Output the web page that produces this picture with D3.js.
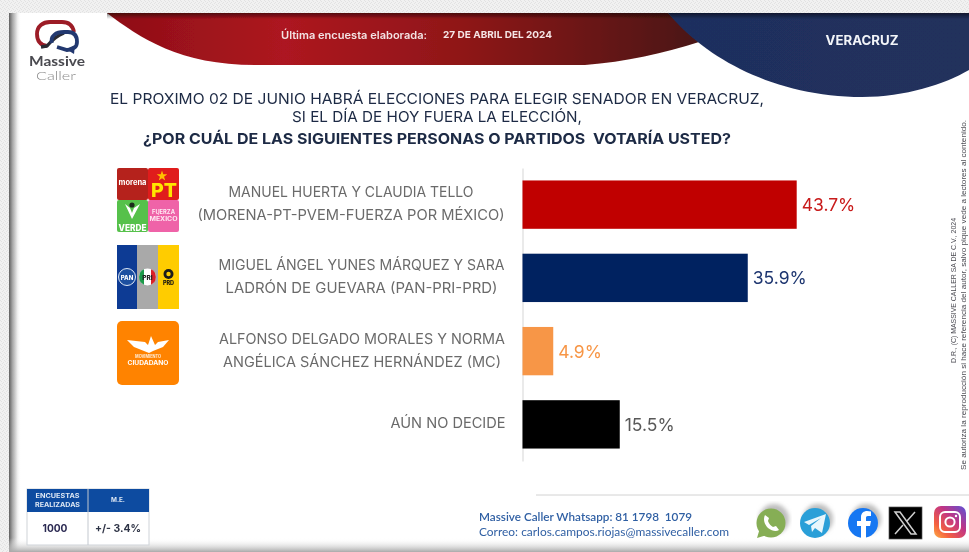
<!DOCTYPE html>
<html><head><meta charset="utf-8">
<script src="https://cdn.jsdelivr.net/npm/d3@7"></script>
<style>html,body{margin:0;padding:0;background:#fff;overflow:hidden}svg{display:block}</style>
</head><body><div id="c"></div>
<script>
const candidates = ["MANUEL HUERTA Y CLAUDIA TELLO|(MORENA-PT-PVEM-FUERZA POR MÉXICO)",
  "MIGUEL ÁNGEL YUNES MÁRQUEZ Y SARA|LADRÓN DE GUEVARA (PAN-PRI-PRD)",
  "ALFONSO DELGADO MORALES Y NORMA|ANGÉLICA SÁNCHEZ HERNÁNDEZ (MC)",
  "AÚN NO DECIDE"];
const values = [43.7, 35.9, 4.9, 15.5];
const barColors = ["#c00000", "#002060", "#f79646", "#000000"];
const valueColors = ["#c81a1a", "#1f3670", "#f79646", "#595959"];
const titleLines = ["EL PROXIMO 02 DE JUNIO HABRÁ ELECCIONES PARA ELEGIR SENADOR EN VERACRUZ,",
  "SI EL DÍA DE HOY FUERA LA ELECCIÓN,", "¿POR CUÁL DE LAS SIGUIENTES PERSONAS O PARTIDOS  VOTARÍA USTED?"];

const W = 969, H = 552;
const font = "Inter, 'Open Sans', sans-serif";
const svg = d3.select("#c").append("svg").attr("width", W).attr("height", H);
const defs = svg.append("defs");
function grad(id, stops, x1=0, y1=0, x2=1, y2=0){
  const g = defs.append("linearGradient").attr("id", id).attr("x1",x1).attr("y1",y1).attr("x2",x2).attr("y2",y2);
  stops.forEach(s => g.append("stop").attr("offset", s[0]).attr("stop-color", s[1]).attr("stop-opacity", s[2]===undefined?1:s[2]));
}
grad("red", [[0,"#8e0f16"],[0.3,"#ad1520"],[0.6,"#8f1418"],[1,"#4a1612"]]);
grad("blue", [[0,"#1e2f5e"],[1,"#22305c"]]);
grad("shL", [[0,"#5f5f5f"],[0.3,"#a8a8a8"],[0.7,"#eeeeee"],[1,"#fff",0]]);
grad("shB", [[0,"#fff",0],[1,"#a9a9a9"]],0,0,0,1);
grad("shT", [[0,"#000",0.5],[1,"#000",0]],0,0,0,1);
grad("ig", [[0,"#5b51d8"],[0.4,"#c13584"],[0.75,"#f56040"],[1,"#fcaf45"]],1,0,0,1);
defs.append("filter").attr("id","soft").attr("x","-2%").attr("y","-2%").attr("width","104%").attr("height","104%").append("feGaussianBlur").attr("stdDeviation",0.45);
defs.append("filter").attr("id","sh").append("feGaussianBlur").attr("stdDeviation",2);
const pat = defs.append("pattern").attr("id","tex").attr("width",4).attr("height",4).attr("patternUnits","userSpaceOnUse");
pat.append("rect").attr("width",4).attr("height",4).attr("fill","#f1f1f1");
pat.append("path").attr("d","M0 0L2 2M2 4L4 2").attr("stroke","#e2e2e2").attr("stroke-width",1);

// page frame
svg.append("rect").attr("width",W).attr("height",H).attr("fill","url(#tex)");
svg.append("rect").attr("x",9).attr("y",13).attr("width",W-9).attr("height",H-13).attr("fill","#fff");
svg.append("rect").attr("x",9).attr("y",13).attr("width",12).attr("height",H-13).attr("fill","url(#shL)");
svg.append("rect").attr("x",9).attr("y",538).attr("width",W-9).attr("height",14).attr("fill","url(#shB)");

// soft drop shadows for the social icons
[[774,519],[818,519],[866,519]].forEach(p=>svg.append("circle").attr("cx",p[0]).attr("cy",p[1]).attr("r",15).attr("fill","#bdbdbd").attr("filter","url(#sh)"));

const root = svg.append("g").attr("filter","url(#soft)");

// header ribbons
root.append("path").attr("d","M107,13C140,38 180,65 255,65L585,65C625,62 665,53 699,42L668,13Z").attr("fill","url(#red)");
root.append("path").attr("d","M668,13C705,58 775,97 862,97C905,97 945,84 969,70L969,13Z").attr("fill","url(#blue)");
root.append("rect").attr("x",107).attr("y",13).attr("width",W-107).attr("height",6).attr("fill","url(#shT)");

function txt(g,x,y,s,o={}){
  const t = g.append("text").attr("x",x).attr("y",y).text(s)
    .attr("font-family",o.font||font).attr("font-size",o.size||12).attr("font-weight",o.weight||400)
    .attr("fill",o.fill||"#000").attr("text-anchor",o.anchor||"start").style("white-space","pre");
  if(o.len){t.attr("textLength",o.len).attr("lengthAdjust","spacingAndGlyphs");}
  if(o.rotate){t.attr("transform",`rotate(${o.rotate} ${x} ${y})`);}
  return t;
}
txt(root,281,39,"Última encuesta elaborada:",{size:10.5,weight:600,fill:"#f3e3e3",len:146});
txt(root,443,38,"27 DE ABRIL DEL 2024",{size:9.5,weight:700,fill:"#f6e6e6",len:109});
txt(root,862,45,"VERACRUZ",{size:13,weight:700,fill:"#f2f4f8",anchor:"middle",len:73});

// logo
const logo = root.append("g");
logo.append("path").attr("d","M47,46C40,45 37,41 37,34C37,26 43,22 50,22L62,22C70,22 73,27 74,32").attr("fill","none").attr("stroke","#9c1b26").attr("stroke-width",3.8);
logo.append("path").attr("d","M41,47L47,46C52,40 56,36 64,33").attr("fill","none").attr("stroke","#2a2a33").attr("stroke-width",3.4);
logo.append("path").attr("d","M52,43C50,36 56,32 64,32L68,32C75,32 77,37 77,42C77,47 73,50 67,50L57,47").attr("fill","none").attr("stroke","#24396f").attr("stroke-width",3.8);
logo.append("path").attr("d","M66,49L74,54L75,45Z").attr("fill","#24396f");
txt(root,57,66,"Massive",{size:13,weight:700,fill:"#4a4a50",anchor:"middle",len:56,font:"Lato, sans-serif"});
txt(root,56,80,"Caller",{size:12.5,weight:300,fill:"#8a8a8a",anchor:"middle",len:40,font:"Lato, sans-serif"});

// title
const titleSpecs = [{y:104,x:437,len:654,w:400,s:15},{y:122,x:437,len:290,w:400,s:15},{y:144,x:437,len:588,w:700,s:15}];
root.selectAll(".tl").data(titleLines).join("text").attr("class","tl")
  .attr("x",(d,i)=>titleSpecs[i].x).attr("y",(d,i)=>titleSpecs[i].y).text(d=>d)
  .attr("font-family",font).attr("font-size",(d,i)=>titleSpecs[i].s).attr("font-weight",(d,i)=>titleSpecs[i].w)
  .attr("fill","#1d2a44").attr("text-anchor","middle").style("white-space","pre")
  .attr("textLength",(d,i)=>titleSpecs[i].len).attr("lengthAdjust","spacingAndGlyphs");

// chart
const x = d3.scaleLinear().domain([0,43.7]).range([522.5,796.7]);
const y = d3.scaleBand().domain(candidates).range([168,461]).paddingInner(0.34).paddingOuter(0.17);
const chart = root.append("g");
chart.append("g").attr("transform",`translate(${x(0)},0)`).call(d3.axisLeft(y).tickSize(0).tickFormat(""))
  .call(g=>g.select(".domain").attr("stroke","#dcdcdc").attr("stroke-width",1.2));
chart.selectAll("rect.bar").data(values).join("rect").attr("class","bar")
  .attr("x",x(0)).attr("y",(d,i)=>y(candidates[i])).attr("width",d=>x(d)-x(0)).attr("height",y.bandwidth())
  .attr("fill",(d,i)=>barColors[i]);
chart.selectAll("text.val").data(values).join("text").attr("class","val")
  .attr("x",d=>x(d)+5).attr("y",(d,i)=>y(candidates[i])+y.bandwidth()/2+6.5)
  .text(d=>d.toFixed(1)+"%").attr("font-family",font).attr("font-size",17.5)
  .attr("fill",(d,i)=>valueColors[i]);
const lineLens = [[245,307],[286,272],[286,278],[115]];
const labelCx = [351,361.5,362,448];
const lab = chart.selectAll("g.lab").data(candidates).join("g").attr("class","lab");
lab.each(function(d,i){
  const ls = d.split("|"); const cy = y(d)+y.bandwidth()/2;
  ls.forEach((l,j)=>{
    txt(d3.select(this),labelCx[i],cy+(j-(ls.length-1)/2)*23+4,l,{size:14,fill:"#6b6b6b",anchor:"middle",len:lineLens[i][j]});
  });
});

// party icons
const ic = root.append("g");
function r(x,y,w,h,f,rx=0){ic.append("rect").attr("x",x).attr("y",y).attr("width",w).attr("height",h).attr("fill",f).attr("rx",rx);}
r(117,168,31,32,"#b5221a",2); r(148,168,31,32,"#e01a1a",2); r(117,200,31,32,"#57c14b",2); r(148,200,31,32,"#ef64a8",2);
txt(ic,132.5,185,"morena",{size:7.5,weight:700,fill:"#fff",anchor:"middle",len:28});
txt(ic,164,197,"PT",{size:19,weight:800,fill:"#ffe600",anchor:"middle",len:26});
ic.append("path").attr("d",d3.symbol().type(d3.symbolStar).size(35)()).attr("transform","translate(162,176)").attr("fill","#ffc000");
ic.append("path").attr("d","M125,204L132,219L140,204L134,208L132,213L130,208Z").attr("fill","#fff");
ic.append("circle").attr("cx",132).attr("cy",205).attr("r",2.6).attr("fill","#1c2a1c");
txt(ic,132.5,231,"VERDE",{size:8.5,weight:800,fill:"#fff",anchor:"middle",len:28});
txt(ic,163.5,214,"FUERZA",{size:5.5,weight:700,fill:"#ffe9f3",anchor:"middle",len:23});
txt(ic,163.5,221,"MÉXICO",{size:5.5,weight:700,fill:"#ffe9f3",anchor:"middle",len:28});

r(117,245,20,64,"#0a3a94"); r(137,245,21,64,"#a9a9a9"); r(158,245,21,64,"#ffcc00");
ic.append("circle").attr("cx",127).attr("cy",277).attr("r",8.5).attr("fill","#1c4fa0").attr("stroke","#dfe8f5").attr("stroke-width",1);
txt(ic,127,280,"PAN",{size:6,weight:800,fill:"#fff",anchor:"middle"});
ic.append("circle").attr("cx",147.5).attr("cy",277).attr("r",8.5).attr("fill","#fff");
ic.append("path").attr("d","M144,269.3A8.5,8.5 0 0 0 144,284.7Z").attr("fill","#1a9a4a");
ic.append("path").attr("d","M151,269.3A8.5,8.5 0 0 1 151,284.7Z").attr("fill","#d8232a");
txt(ic,147.5,280,"PRI",{size:6.5,weight:800,fill:"#222",anchor:"middle"});
ic.append("circle").attr("cx",168.5).attr("cy",274).attr("r",5).attr("fill","#1a1a1a");
ic.append("circle").attr("cx",168.5).attr("cy",274).attr("r",2.2).attr("fill","#ffcc00");
txt(ic,168.5,285,"PRD",{size:5.5,weight:800,fill:"#111",anchor:"middle"});

r(117,321,62,64,"#ff8300",5);
ic.append("path").attr("d","M127,340L145,342L148,345L151,336L155,345L158,342L169,340L163,347L153,351L149,353L144,351L134,347Z").attr("fill","#fff");
txt(ic,148,358,"MOVIMIENTO",{size:4.5,weight:700,fill:"#ffeeda",anchor:"middle",len:26});
txt(ic,148,365,"CIUDADANO",{size:6,weight:700,fill:"#fff",anchor:"middle",len:41});

// survey table
const tb = root.append("g");
tb.append("rect").attr("x",27).attr("y",489).attr("width",122).attr("height",56).attr("fill","#fff").attr("stroke","#cfd3d8");
tb.append("rect").attr("x",27).attr("y",489).attr("width",122).attr("height",23).attr("fill","#0b4ba0");
tb.append("line").attr("x1",88).attr("x2",88).attr("y1",489).attr("y2",545).attr("stroke","#c3c8cf");
txt(tb,57.5,498,"ENCUESTAS",{size:6.5,weight:700,fill:"#dfe8f4",anchor:"middle",len:44});
txt(tb,57.5,507,"REALIZADAS",{size:6.5,weight:700,fill:"#dfe8f4",anchor:"middle",len:45});
txt(tb,118,502,"M.E.",{size:6.5,weight:700,fill:"#dfe8f4",anchor:"middle",len:14});
txt(tb,55,532,"1000",{size:10.5,weight:700,fill:"#2c2a52",anchor:"middle",len:25});
txt(tb,118,532,"+/- 3.4%",{size:10.5,weight:700,fill:"#2f3446",anchor:"middle",len:46});

// footer
root.append("line").attr("x1",536).attr("x2",W).attr("y1",495).attr("y2",495).attr("stroke","#d2d2d2").attr("stroke-width",1);
txt(root,479,521,"Massive Caller Whatsapp: 81 1798  1079",{size:11.5,weight:600,fill:"#2f5fa3",len:213,font:"Lato, sans-serif"});
txt(root,479,536,"Correo: carlos.campos.riojas@massivecaller.com",{size:11.5,fill:"#2f5fa3",len:250,font:"Lato, sans-serif"});

// social icons
const so = root.append("g");
so.append("circle").attr("cx",771).attr("cy",523).attr("r",14.5).attr("fill","#86ae54");
so.append("path").attr("d","M757,538L760,528L767,535Z").attr("fill","#86ae54");
so.append("path").attr("d","M765,515C763,519 764,524 768,528C772,531 776,532 779,530L776,526L773,527C771,526 769,524 768,521L769,518Z").attr("fill","#fff");
so.append("circle").attr("cx",815).attr("cy",523).attr("r",15).attr("fill","#2b9fd8");
so.append("path").attr("d","M804,522L826,514L822,533L815,528L812,532L811,526L821,518L809,525Z").attr("fill","#e8f6fc");
so.append("circle").attr("cx",863).attr("cy",523).attr("r",15).attr("fill","#1877f2");
so.append("path").attr("d","M861,538V526H857V521H861V517C861,513 864,511 867,511L871,511.5V516H868C866,516 866,517 866,518V521H871L870,526H866V538Z").attr("fill","#fff");
so.append("rect").attr("x",889).attr("y",507).attr("width",33).attr("height",32).attr("fill","#000").attr("stroke","#555").attr("stroke-width",0.7);
so.append("path").attr("d","M895,512L911,534H916L900,512Z").attr("fill","none").attr("stroke","#cfcfcf").attr("stroke-width",1.5);
so.append("path").attr("d","M915,512L907,521M903,525L895,534").attr("stroke","#cfcfcf").attr("stroke-width",1.5);
so.append("rect").attr("x",934).attr("y",506).attr("width",32).attr("height",32).attr("rx",7).attr("fill","url(#ig)");
so.append("rect").attr("x",940).attr("y",512).attr("width",20).attr("height",20).attr("rx",5).attr("fill","none").attr("stroke","#fff").attr("stroke-width",2);
so.append("circle").attr("cx",950).attr("cy",522).attr("r",4.6).attr("fill","none").attr("stroke","#fff").attr("stroke-width",2);
so.append("circle").attr("cx",956).attr("cy",516).attr("r",1.2).attr("fill","#fff");

// rotated notices
txt(root,956,363,"D.R., (C) MASSIVE CALLER SA DE C.V., 2024",{size:7,fill:"#4b4b52",len:145,rotate:-90,font:"'Liberation Sans', sans-serif"});
txt(root,966,470,"Se autoriza la reproducción si hace referencia del autor, salvo pique vede a lectores al contenido.",{size:7,fill:"#4b4b52",len:350,rotate:-90,font:"'Liberation Sans', sans-serif"});
</script></body></html>
